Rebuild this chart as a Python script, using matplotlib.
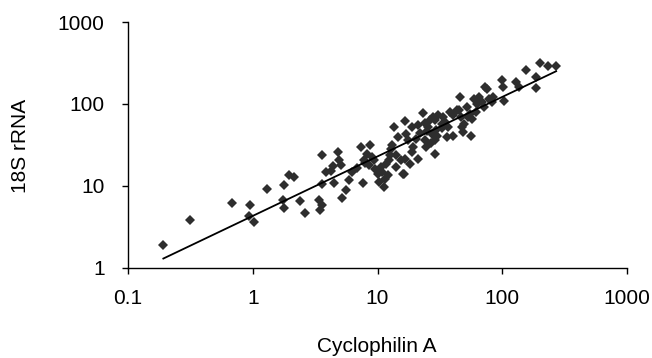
import matplotlib
matplotlib.use("Agg")
import matplotlib.pyplot as plt
import numpy as np

plt.rcParams['font.family'] = ['Liberation Sans', 'DejaVu Sans']

# Cyclophilin A (x) and 18S rRNA (y) expression values
cyclophilin_a = [
    0.192, 0.316, 0.679, 0.957, 0.928, 1.02, 1.30, 1.77, 1.75, 1.77,
    1.96, 2.14, 2.39, 2.61, 3.37, 3.58, 3.43, 3.60, 3.58, 3.84,
    4.21, 4.48, 4.40, 4.83, 4.95, 5.14, 5.20, 5.64, 5.89, 6.27,
    7.41, 7.65, 7.80, 8.30, 8.56, 8.67, 9.0, 9.4, 10.0, 10.2,
    10.6, 11.2, 11.7, 12.2, 12.4, 12.8, 13.6, 14.1, 14.5, 15.5,
    16.0, 16.4, 16.7, 17.0, 17.5, 18.3, 19.0, 19.2, 20.5, 21.1,
    21.1, 23.2, 23.9, 24.6, 25.4, 26.2, 27.1, 27.9, 28.8, 28.8,
    29.7, 30.6, 32.6, 33.7, 35.8, 36.9, 38.1, 40.6, 43.2, 45.9,
    46.5, 47.4, 48.9, 52.0, 55.4, 56.4, 57.1, 58.9, 62.7, 64.7,
    68.8, 71.0, 73.3, 75.5, 77.9, 83.0, 100, 101, 103, 128,
    136.5, 154.5, 186.2, 186.2, 201.8, 234.4, 270.4,
    24.0, 40.0, 49.0, 11.5, 10.8, 16.5, 30.0, 22.0, 35.0, 27.0,
    19.0, 14.0, 9.5, 45.0, 62.0, 33.0, 25.0, 53.0, 8.0, 6.8,
    12.5, 13.0, 29.0, 85.0,
]
rrna_18s = [
    1.87, 3.85, 6.2, 5.8, 4.23, 3.64, 9.1, 10.3, 6.75, 5.3,
    13.6, 12.6, 6.56, 4.69, 6.75, 5.87, 5.0, 23.4, 10.6, 14.5,
    15.0, 10.8, 17.4, 25.7, 20.4, 17.7, 7.08, 8.77, 11.6, 14.7,
    29.6, 10.8, 20.8, 24.6, 17.7, 31.0, 22.4, 20.4, 14.0, 11.1,
    16.9, 9.6, 18.5, 13.4, 20.4, 28.3, 51.9, 23.4, 39.2, 20.4,
    14.0, 14.0, 60.9, 43.1, 35.7, 18.5, 51.9, 29.6, 37.4, 21.3,
    54.4, 76.9, 35.7, 29.6, 51.9, 62.6, 43.1, 68.8, 24.6, 35.7,
    47.3, 72.1, 57.0, 68.8, 39.2, 51.9, 79.1, 72.1, 82.9, 120.6,
    68.8, 51.9, 45.1, 91.1, 75.5, 40.0, 65.6, 115, 100, 120.6,
    104.8, 91.1, 162.7, 152.4, 115, 104.8, 196, 159.7, 109.8, 183.8,
    162.7, 260, 215.5, 155.2, 316, 293, 287.7,
    58.0, 41.0, 57.0, 12.0, 14.5, 21.3, 40.0, 44.0, 60.0, 33.0,
    26.0, 17.0, 16.0, 85.0, 80.0, 50.0, 47.0, 70.0, 19.0, 16.5,
    24.0, 31.0, 64.0, 120.0,
]

# power-law trend line y = a * x^b
trend_a = 4.27
trend_b = 0.727

x_ticks = [0.1, 1, 10, 100, 1000]
x_tick_labels = ["0.1", "1", "10", "100", "1000"]
y_ticks = [1, 10, 100, 1000]
y_tick_labels = ["1", "10", "100", "1000"]

fig = plt.figure(figsize=(6.52, 3.58), dpi=100)
ax = fig.add_axes([128 / 652, 1 - 267.5 / 358, (627 - 128) / 652, (267.5 - 22) / 358])

ax.plot(cyclophilin_a, rrna_18s, linestyle='none', marker='D', markersize=4.8,
        color='#2e2e2e', markeredgewidth=0)

x_line = np.array([min(cyclophilin_a), max(cyclophilin_a)])
ax.plot(x_line, trend_a * x_line ** trend_b, color='black', linewidth=1.3)

ax.set_xscale('log')
ax.set_yscale('log')
ax.set_xlim(0.1, 1000)
ax.set_ylim(1, 1000)
ax.set_xticks(x_ticks)
ax.set_xticklabels(x_tick_labels)
ax.set_yticks(y_ticks)
ax.set_yticklabels(y_tick_labels)
ax.minorticks_off()

for s in ['top', 'right']:
    ax.spines[s].set_visible(False)
for s in ['left', 'bottom']:
    ax.spines[s].set_linewidth(1.0)
    ax.spines[s].set_color('black')

ax.tick_params(axis='both', which='major', direction='out', length=4.3, width=1.0,
               labelsize=15, colors='black')
ax.tick_params(axis='x', pad=11.5)
ax.tick_params(axis='y', pad=12.5)

fig.text(377 / 652, 1 - 352 / 358, "Cyclophilin A", ha='center', va='baseline', fontsize=15)
fig.text(21 / 652, 1 - 146 / 358, "18S rRNA", ha='center', va='center', rotation=90, fontsize=15)

fig.savefig("out.png", dpi=100)
